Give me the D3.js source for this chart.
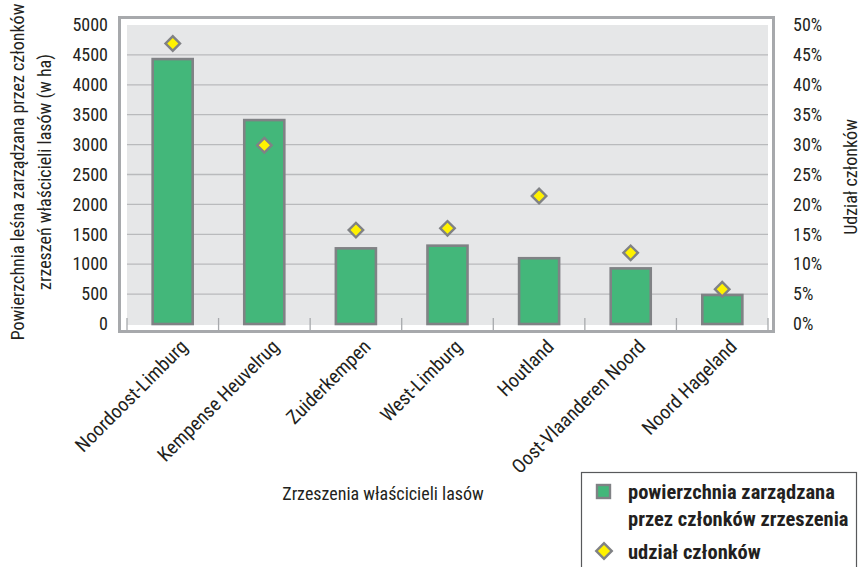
<!DOCTYPE html>
<html><head><meta charset="utf-8">
<script src="https://cdn.jsdelivr.net/npm/d3@7"></script>
<style>
body{margin:0;background:#fff;}
text{font-family:"Liberation Sans Narrow","Arial Narrow","Roboto Condensed",sans-serif;fill:#231f20;}
</style></head>
<body><svg id="c" width="861" height="567"></svg>
<script>
const categories = ["Noordoost-Limburg","Kempense Heuvelrug","Zuiderkempen","West-Limburg","Houtland","Oost-Vlaanderen Noord","Noord Hageland"];
const areaHa = [4430, 3410, 1265, 1310, 1100, 930, 485];
const memberShare = [0.469, 0.299, 0.157, 0.160, 0.214, 0.119, 0.058];
const leftTicks = [0,500,1000,1500,2000,2500,3000,3500,4000,4500,5000];
const rightTicks = [0,0.05,0.10,0.15,0.20,0.25,0.30,0.35,0.40,0.45,0.50];

const svg = d3.select("#c");
const L = 127, R = 768, T = 25, B = 325;
const x = d3.scaleBand().domain(categories).range([L, R]).paddingInner(0.563).paddingOuter(0.28);
const band = d3.scaleBand().domain(categories).range([L, R]);
const y = d3.scaleLinear().domain([0, 5000]).range([B - 1, T]);
const y2 = d3.scaleLinear().domain([0, 0.5]).range([B - 1, T]);

// frame
svg.append("rect").attr("x", 119.5).attr("y", 17.5).attr("width", 654).attr("height", 314)
  .attr("fill", "#fff").attr("stroke", "#a7a9ac").attr("stroke-width", 3);
svg.append("rect").attr("x", L).attr("y", T).attr("width", R - L).attr("height", B - T).attr("fill", "#e6e7e8");

// gridlines
svg.append("g").selectAll("line").data(leftTicks.filter(d => d > 0 && d < 5000)).join("line")
  .attr("x1", L).attr("x2", R).attr("y1", d => y(d)).attr("y2", d => y(d))
  .attr("stroke", "#b9babc").attr("stroke-width", 1.3);

// category ticks
const tickPos = categories.map(c => band(c)).concat([R]);
svg.append("g").selectAll("line").data(tickPos).join("line")
  .attr("x1", d => d).attr("x2", d => d).attr("y1", 318).attr("y2", 330)
  .attr("stroke", "#a7a9ac").attr("stroke-width", 1.3);

// left axis
const ax = d3.axisLeft(y).tickValues(leftTicks).tickSize(0).tickPadding(0).tickFormat(d3.format("d"));
const gL = svg.append("g").attr("transform", "translate(108,0)").call(ax);
gL.select(".domain").remove();
gL.selectAll("text").attr("font-size", 18).style("font-family", null).attr("fill", "#231f20");

const ax2 = d3.axisRight(y2).tickValues(rightTicks).tickSize(0).tickPadding(0).tickFormat(d3.format(".0%"));
const gR = svg.append("g").attr("transform", "translate(793,0)").call(ax2);
gR.select(".domain").remove();
gR.selectAll("text").attr("font-size", 18).style("font-family", null).attr("fill", "#231f20");

// bars
svg.append("g").selectAll("rect").data(categories).join("rect")
  .attr("x", c => x(c)).attr("width", x.bandwidth())
  .attr("y", (c, i) => y(areaHa[i])).attr("height", (c, i) => y(0) - y(areaHa[i]))
  .attr("fill", "#43b77a").attr("stroke", "#808285").attr("stroke-width", 2.6);

// diamonds
svg.append("g").selectAll("path").data(categories).join("path")
  .attr("d", d3.symbol().type(d3.symbolSquare).size(105))
  .attr("transform", (c, i) => `translate(${band(c) + band.bandwidth()/2},${y2(memberShare[i])}) rotate(45)`)
  .attr("fill", "#fff200").attr("stroke", "#808285").attr("stroke-width", 2.4);

// x labels
svg.append("g").selectAll("text").data(categories).join("text")
  .attr("transform", c => `translate(${band(c) + band.bandwidth()/2 + 6},338) rotate(-45)`)
  .attr("text-anchor", "end").attr("dy", "0.72em").attr("font-size", 19.5).text(c => c);

// axis titles
svg.append("text").attr("transform", "translate(24,172) rotate(-90)").attr("text-anchor", "middle")
  .attr("font-size", 18).text("Powierzchnia leśna zarządzana przez członków");
svg.append("text").attr("transform", "translate(51,172) rotate(-90)").attr("text-anchor", "middle")
  .attr("font-size", 18).text("zrzeszeń właścicieli lasów (w ha)");
svg.append("text").attr("transform", "translate(857,177) rotate(-90)").attr("text-anchor", "middle")
  .attr("font-size", 18).text("Udział członków");
svg.append("text").attr("x", 383).attr("y", 500).attr("text-anchor", "middle")
  .attr("font-size", 18).text("Zrzeszenia właścicieli lasów");

// legend
const lg = svg.append("g");
lg.append("rect").attr("x", 581.5).attr("y", 472.5).attr("width", 275).attr("height", 110)
  .attr("fill", "#fff").attr("stroke", "#58595b").attr("stroke-width", 1.2);
lg.append("rect").attr("x", 597).attr("y", 485).attr("width", 13).attr("height", 13)
  .attr("fill", "#43b77a").attr("stroke", "#808285").attr("stroke-width", 2.4);
lg.append("path").attr("d", d3.symbol().type(d3.symbolSquare).size(120))
  .attr("transform", "translate(604,551) rotate(45)")
  .attr("fill", "#fff200").attr("stroke", "#808285").attr("stroke-width", 2.4);
const lt = [["powierzchnia zarządzana", 499], ["przez członków zrzeszenia", 526], ["udział członków", 559]];
lg.selectAll("text.l").data(lt).join("text").attr("class", "l")
  .attr("x", 628).attr("y", d => d[1]).attr("font-size", 20.5).attr("font-weight", "bold").text(d => d[0]);
</script></body></html>
